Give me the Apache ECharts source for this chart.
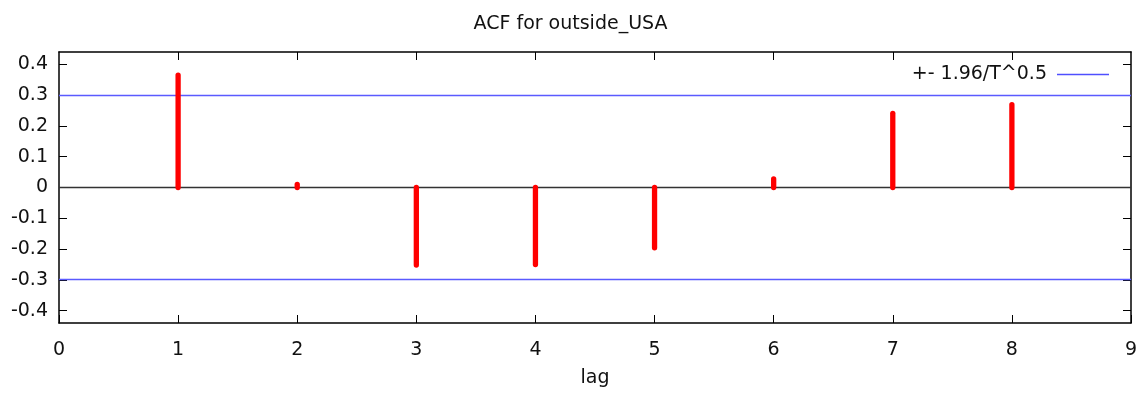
<!DOCTYPE html>
<html>
<head>
<meta charset="utf-8">
<script src="https://cdn.jsdelivr.net/npm/echarts@6/dist/echarts.min.js"></script>
<style>
html,body{margin:0;padding:0;background:#fff;}
#chart{width:1141px;height:394px;}
</style>
</head>
<body>
<div id="chart"></div>
<script>
// Data
var lags = [1, 2, 3, 4, 5, 6, 7, 8];
var acfValues = [0.365, 0.010, -0.252, -0.250, -0.196, 0.028, 0.241, 0.269];
var bandValue = 0.2989;
var yTickValues = [-0.4, -0.3, -0.2, -0.1, 0, 0.1, 0.2, 0.3, 0.4];
var xTickValues = [0, 1, 2, 3, 4, 5, 6, 7, 8, 9];
var titleText = 'ACF for outside_USA';
var xAxisName = 'lag';
var legendName = '+- 1.96/T^0.5';

var FONT = 'DejaVu Sans';
var FS = 19;

function fmtY(v) {
  var r = Math.round(v * 10) / 10;
  if (Math.abs(r) < 1e-9) return '0';
  return r.toFixed(1);
}

var impulseData = lags.map(function (l, i) { return [l, acfValues[i]]; });

var chart = echarts.init(document.getElementById('chart'), null, { renderer: 'canvas' });

var axisLineStyle = { color: '#000', width: 1.5 };
var tickStyle = { color: '#000', width: 1 };

var option = {
  animation: false,
  backgroundColor: '#fff',
  title: {
    text: titleText,
    left: 'center',
    top: 10,
    textStyle: { fontFamily: FONT, fontSize: 19, fontWeight: 'normal', color: '#111' }
  },
  legend: {
    right: 27,
    top: 60,
    align: 'right',
    itemWidth: 52,
    itemHeight: 1.3,
    icon: 'rect',
    data: [legendName],
    textStyle: { fontFamily: FONT, fontSize: FS, color: '#111', padding: [0, 5, 0, 0] }
  },
  grid: { left: 59, right: 10, top: 52, bottom: 71, containLabel: false },
  xAxis: [
    {
      type: 'value', min: 0, max: 9, interval: 1,
      position: 'bottom',
      name: xAxisName, nameLocation: 'middle', nameGap: 46,
      nameTextStyle: { fontFamily: FONT, fontSize: 19, color: '#111' },
      axisLine: { show: true, onZero: false, lineStyle: axisLineStyle },
      axisTick: { show: true, inside: true, length: 8, lineStyle: tickStyle },
      axisLabel: { show: true, margin: 18, fontFamily: FONT, fontSize: FS, color: '#111' },
      splitLine: { show: false }
    },
    {
      type: 'value', min: 0, max: 9, interval: 1,
      position: 'top',
      axisLine: { show: true, onZero: false, lineStyle: axisLineStyle },
      axisTick: { show: true, inside: true, length: 8, lineStyle: tickStyle,
        customValues: [1, 2, 3, 4, 5, 6, 7, 8] },
      axisLabel: { show: false },
      splitLine: { show: false }
    }
  ],
  yAxis: [
    {
      type: 'value', min: -0.44, max: 0.44,
      position: 'left',
      axisLine: { show: true, onZero: false, lineStyle: axisLineStyle },
      axisTick: { show: true, inside: true, length: 8, lineStyle: tickStyle, customValues: yTickValues },
      axisLabel: { show: true, margin: 11, fontFamily: FONT, fontSize: FS, color: '#111',
        customValues: yTickValues, formatter: fmtY },
      splitLine: { show: false }
    },
    {
      type: 'value', min: -0.44, max: 0.44,
      position: 'right',
      axisLine: { show: true, onZero: false, lineStyle: axisLineStyle },
      axisTick: { show: true, inside: true, length: 8, lineStyle: tickStyle, customValues: yTickValues },
      axisLabel: { show: false, customValues: yTickValues },
      splitLine: { show: false }
    }
  ],
  series: [
    {
      name: 'zero',
      type: 'line',
      data: [[0, 0], [9, 0]],
      symbol: 'none',
      silent: true,
      lineStyle: { color: '#333', width: 1.3 },
      z: 1
    },
    {
      name: legendName,
      type: 'line',
      data: [[0, bandValue], [9, bandValue]],
      symbol: 'none',
      color: '#4f4fff',
      lineStyle: { color: '#5a5aff', width: 1.5 },
      z: 2
    },
    {
      name: legendName,
      type: 'line',
      data: [[0, -bandValue], [9, -bandValue]],
      symbol: 'none',
      color: '#4f4fff',
      lineStyle: { color: '#5a5aff', width: 1.5 },
      z: 2
    },
    {
      name: 'acf',
      type: 'custom',
      data: impulseData,
      z: 3,
      renderItem: function (params, api) {
        var x = api.value(0), y = api.value(1);
        var p0 = api.coord([x, 0]);
        var p1 = api.coord([x, y]);
        return {
          type: 'line',
          shape: { x1: p0[0], y1: p0[1], x2: p1[0], y2: p1[1] },
          style: { stroke: '#ff0000', lineWidth: 5.3, lineCap: 'round' }
        };
      }
    }
  ]
};
chart.setOption(option);
</script>
</body>
</html>
